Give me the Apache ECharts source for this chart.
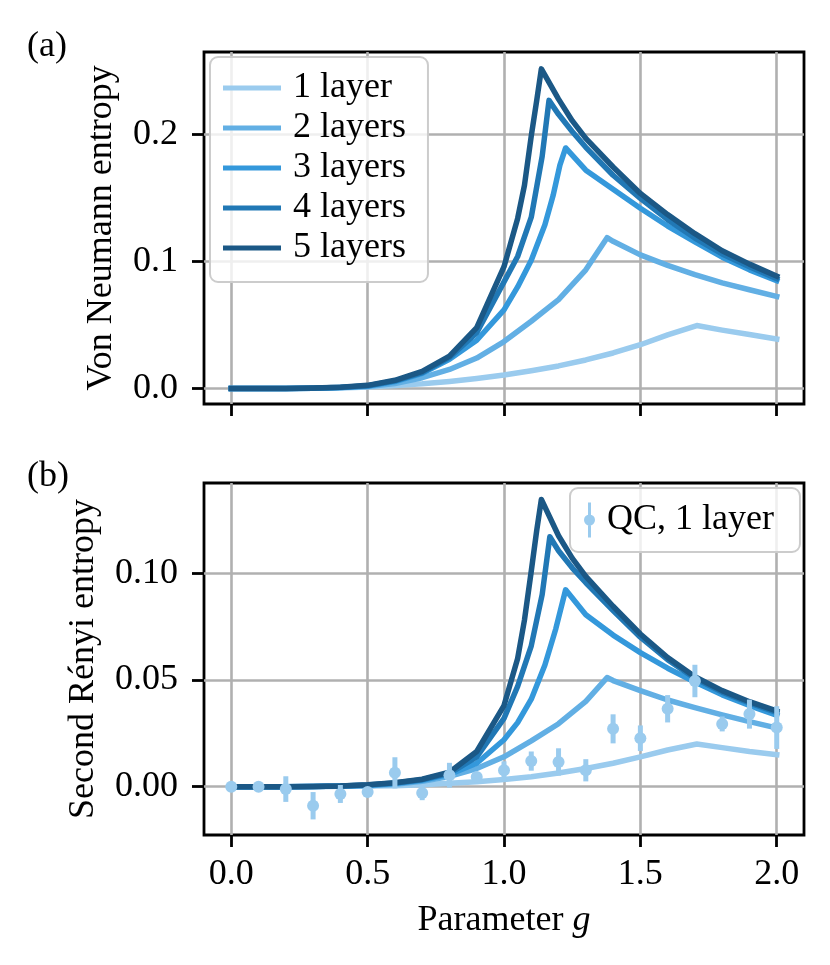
<!DOCTYPE html>
<html>
<head>
<meta charset="utf-8">
<script src="https://cdn.jsdelivr.net/npm/echarts@6.0.0/dist/echarts.min.js"></script>
</head>
<body style="margin:0;background:#fff">
<div id="main" style="width:830px;height:965px"></div>
<script>
// ---- data ----
var layerNames = ['1 layer', '2 layers', '3 layers', '4 layers', '5 layers'];
var layerColors = ['#9acbee', '#62afe4', '#3498db', '#2178b5', '#1b5886'];

var xTicks = [0, 0.5, 1.0, 1.5, 2.0];
var vnTicks = [0, 0.1, 0.2];
var renyiTicks = [0, 0.05, 0.10];

// (a) Von Neumann entropy, [g, S]
var vn1 = [[0,0],[0.1,0],[0.2,0.0001],[0.3,0.0002],[0.4,0.0005],[0.5,0.0012],[0.6,0.0023],[0.7,0.0037],[0.8,0.0056],[0.9,0.0079],[1.0,0.0106],[1.1,0.0140],[1.2,0.0178],[1.3,0.0225],[1.4,0.0280],[1.5,0.0345],[1.6,0.0422],[1.707,0.0496],[1.8,0.0460],[1.9,0.0425],[2.0,0.0390]];
var vn2 = [[0,0],[0.1,0],[0.2,0.0001],[0.3,0.0003],[0.4,0.0007],[0.5,0.0016],[0.6,0.0040],[0.7,0.0085],[0.8,0.0150],[0.9,0.0240],[1.0,0.0370],[1.1,0.0530],[1.2,0.0700],[1.3,0.0935],[1.378,0.1188],[1.4,0.1160],[1.5,0.1053],[1.6,0.0970],[1.7,0.0898],[1.8,0.0832],[1.9,0.0778],[2.0,0.0725]];
var vn3 = [[0,0],[0.1,0],[0.2,0.0001],[0.3,0.0003],[0.4,0.0008],[0.5,0.0020],[0.6,0.0055],[0.7,0.0120],[0.8,0.0230],[0.9,0.0380],[1.0,0.0620],[1.05,0.0800],[1.1,0.1010],[1.15,0.1290],[1.18,0.1520],[1.205,0.1760],[1.226,0.1895],[1.3,0.1720],[1.4,0.1570],[1.5,0.1420],[1.6,0.1280],[1.7,0.1155],[1.8,0.1035],[1.9,0.0935],[2.0,0.0850]];
var vn4 = [[0,0],[0.1,0],[0.2,0.0001],[0.3,0.0003],[0.4,0.0009],[0.5,0.0022],[0.6,0.0060],[0.7,0.0125],[0.8,0.0245],[0.9,0.0440],[1.0,0.0840],[1.05,0.1040],[1.1,0.1350],[1.14,0.1830],[1.165,0.2270],[1.2,0.2160],[1.25,0.2025],[1.3,0.1900],[1.4,0.1680],[1.5,0.1498],[1.6,0.1330],[1.7,0.1185],[1.8,0.1060],[1.9,0.0960],[2.0,0.0865]];
var vn5 = [[0,0],[0.1,0],[0.2,0.0001],[0.3,0.0004],[0.4,0.0010],[0.5,0.0025],[0.6,0.0065],[0.7,0.0135],[0.8,0.0255],[0.9,0.0480],[1.0,0.0960],[1.05,0.1340],[1.075,0.1600],[1.1,0.1990],[1.12,0.2270],[1.137,0.2518],[1.2,0.2280],[1.25,0.2110],[1.3,0.1970],[1.4,0.1745],[1.5,0.1537],[1.6,0.1370],[1.7,0.1220],[1.8,0.1085],[1.9,0.0980],[2.0,0.0885]];

// (b) second Renyi entropy, [g, S2]
var r1 = [[0,0],[0.1,0],[0.2,0],[0.3,0.0001],[0.4,0.0002],[0.5,0.0003],[0.6,0.0005],[0.7,0.0009],[0.8,0.0016],[0.9,0.0023],[1.0,0.0034],[1.1,0.0047],[1.2,0.0064],[1.3,0.0085],[1.4,0.0110],[1.5,0.0140],[1.6,0.0172],[1.707,0.0200],[1.8,0.0183],[1.9,0.0165],[2.0,0.0150]];
var r2 = [[0,0],[0.1,0],[0.2,0],[0.3,0.0001],[0.4,0.0002],[0.5,0.0005],[0.6,0.0012],[0.7,0.0026],[0.8,0.0048],[0.9,0.0085],[1.0,0.0140],[1.1,0.0215],[1.2,0.0295],[1.3,0.0400],[1.378,0.0511],[1.4,0.0497],[1.5,0.0450],[1.6,0.0406],[1.7,0.0370],[1.8,0.0336],[1.9,0.0305],[2.0,0.0275]];
var r3 = [[0,0],[0.1,0],[0.2,0],[0.3,0.0001],[0.4,0.0003],[0.5,0.0007],[0.6,0.0015],[0.7,0.0030],[0.8,0.0058],[0.9,0.0110],[1.0,0.0220],[1.05,0.0300],[1.1,0.0410],[1.15,0.0570],[1.19,0.0740],[1.226,0.0922],[1.3,0.0805],[1.4,0.0710],[1.5,0.0628],[1.6,0.0555],[1.7,0.0490],[1.8,0.0430],[1.9,0.0380],[2.0,0.0335]];
var r4 = [[0,0],[0.1,0],[0.2,0],[0.3,0.0001],[0.4,0.0003],[0.5,0.0008],[0.6,0.0017],[0.7,0.0033],[0.8,0.0063],[0.9,0.0140],[1.0,0.0320],[1.05,0.0470],[1.1,0.0660],[1.14,0.0900],[1.168,0.1170],[1.2,0.1105],[1.25,0.1025],[1.3,0.0955],[1.4,0.0825],[1.5,0.0700],[1.6,0.0595],[1.7,0.0508],[1.8,0.0443],[1.9,0.0392],[2.0,0.0348]];
var r5 = [[0,0],[0.1,0],[0.2,0],[0.3,0.0001],[0.4,0.0003],[0.5,0.0009],[0.6,0.0019],[0.7,0.0035],[0.8,0.0068],[0.9,0.0165],[1.0,0.0380],[1.05,0.0600],[1.075,0.0780],[1.1,0.1010],[1.12,0.1200],[1.137,0.1345],[1.2,0.1175],[1.25,0.1070],[1.3,0.0985],[1.4,0.0845],[1.5,0.0715],[1.6,0.0605],[1.7,0.0515],[1.8,0.0450],[1.9,0.0398],[2.0,0.0355]];

// quantum computer, 1 layer
var qcG   = [0, 0.1, 0.2, 0.3, 0.4, 0.5, 0.6, 0.7, 0.8, 0.9, 1.0, 1.1, 1.2, 1.3, 1.4, 1.5, 1.6, 1.7, 1.8, 1.9, 2.0];
var qcS   = [0, 0, -0.0011, -0.0089, -0.0034, -0.0025, 0.0065, -0.0029, 0.0054, 0.0045, 0.0077, 0.0120, 0.0116, 0.0077, 0.0271, 0.0227, 0.0365, 0.0495, 0.0294, 0.0340, 0.0277];
var qcErr = [0.0005, 0.0008, 0.0060, 0.0064, 0.0042, 0.0020, 0.0073, 0.0034, 0.0058, 0.0020, 0.0042, 0.0045, 0.0064, 0.0052, 0.0068, 0.0060, 0.0064, 0.0076, 0.0035, 0.0068, 0.0100];

var vnData = [vn1, vn2, vn3, vn4, vn5];
var renyiData = [r1, r2, r3, r4, r5];

// ---- chart ----
var FONT = 'Liberation Serif';
var FS = 36;
var chart = echarts.init(document.getElementById('main'), null, {renderer: 'canvas'});

function xAxisFor(gi) {
    return {
        gridIndex: gi, type: 'value', min: -0.1, max: 2.1,
        axisLine: {show: false, onZero: false},
        axisTick: {show: true, length: 12, customValues: xTicks, lineStyle: {color: '#000', width: 2.8}},
        axisLabel: {show: gi === 1, customValues: xTicks, margin: 22, color: '#000',
            fontFamily: FONT, fontSize: FS, formatter: function (v) { return v.toFixed(1); }},
        splitLine: {show: true, lineStyle: {color: '#b0b0b0', width: 2.6}},
        name: gi === 1 ? 'Parameter {i|g}' : '',
        nameLocation: 'middle', nameGap: 68,
        nameTextStyle: {color: '#000', fontFamily: FONT, fontSize: FS,
            rich: {i: {fontStyle: 'italic', fontFamily: FONT, fontSize: FS, color: '#000'}}}
    };
}

function yAxisFor(gi, lo, hi, ticks, digits, name, gap) {
    return {
        gridIndex: gi, type: 'value', min: lo, max: hi,
        axisLine: {show: false, onZero: false},
        axisTick: {show: true, length: 12, customValues: ticks, lineStyle: {color: '#000', width: 2.8}},
        axisLabel: {customValues: ticks, margin: 26, color: '#000', fontFamily: FONT, fontSize: FS,
            formatter: function (v) { return v.toFixed(digits); }},
        splitLine: {show: true, lineStyle: {color: '#b0b0b0', width: 2.6}},
        name: name, nameLocation: 'middle', nameGap: gap,
        nameTextStyle: {color: '#000', fontFamily: FONT, fontSize: FS}
    };
}

var series = [];
[vnData, renyiData].forEach(function (set, gi) {
    set.forEach(function (d, k) {
        series.push({
            name: layerNames[k], type: 'line', xAxisIndex: gi, yAxisIndex: gi,
            data: d, showSymbol: false, symbol: 'none', z: 2 + k * 0.01,
            lineStyle: {color: layerColors[k], width: 5.5, join: 'round', cap: 'square'},
            itemStyle: {color: layerColors[k]},
            emphasis: {disabled: true}
        });
    });
});

var errData = qcG.map(function (g, i) { return [g, qcS[i] - qcErr[i], qcS[i] + qcErr[i]]; });
series.push({
    name: 'QC, 1 layer', type: 'custom', xAxisIndex: 1, yAxisIndex: 1, z: 4,
    data: errData, encode: {x: 0, y: [1, 2]},
    itemStyle: {color: layerColors[0]},
    renderItem: function (params, api) {
        var a = api.coord([api.value(0), api.value(1)]);
        var b = api.coord([api.value(0), api.value(2)]);
        return {type: 'line', shape: {x1: a[0], y1: a[1], x2: b[0], y2: b[1]},
            style: {stroke: layerColors[0], lineWidth: 5}};
    }
});
series.push({
    name: 'QC, 1 layer', type: 'scatter', xAxisIndex: 1, yAxisIndex: 1, z: 5,
    data: qcG.map(function (g, i) { return [g, qcS[i]]; }),
    symbolSize: 12, itemStyle: {color: layerColors[0], opacity: 1},
    emphasis: {disabled: true}
});

var legendBox = {
    backgroundColor: 'rgba(255,255,255,0.8)', borderColor: '#cccccc', borderWidth: 2, borderRadius: 8,
    textStyle: {color: '#000', fontFamily: FONT, fontSize: FS, lineHeight: 36, padding: [0, 0, 0, 7]},
    selectedMode: false
};

chart.setOption({
    animation: false,
    grid: [
        {left: 204, top: 52, width: 600, height: 352, show: true, borderColor: '#000', borderWidth: 2.8, backgroundColor: 'transparent'},
        {left: 204, top: 483, width: 600, height: 352, show: true, borderColor: '#000', borderWidth: 2.8, backgroundColor: 'transparent'}
    ],
    xAxis: [xAxisFor(0), xAxisFor(1)],
    yAxis: [
        yAxisFor(0, -0.0122, 0.2651, vnTicks, 1, 'Von Neumann entropy', 84),
        yAxisFor(1, -0.0226, 0.1422, renyiTicks, 2, 'Second Rényi entropy', 102)
    ],
    legend: [
        Object.assign({
            data: layerNames, orient: 'vertical', left: 210, top: 57,
            icon: 'rect', itemWidth: 58, itemHeight: 5, itemGap: 4, padding: [13, 22, 16, 13]
        }, legendBox),
        Object.assign({
            data: [{name: 'QC, 1 layer',
                icon: 'path://M4,0 L7,0 L7,35 L4,35 Z M0,17.5 A5.5,5.5 0 1,1 11,17.5 A5.5,5.5 0 1,1 0,17.5 Z'}],
            orient: 'vertical', left: 570, top: 488,
            itemWidth: 11, itemHeight: 35, padding: [14, 26, 14, 14]
        }, legendBox)
    ],
    graphic: [
        {type: 'text', left: 27, top: 29, style: {text: '(a)', fontFamily: FONT, fontSize: FS, fill: '#000'}},
        {type: 'text', left: 27, top: 459, style: {text: '(b)', fontFamily: FONT, fontSize: FS, fill: '#000'}}
    ],
    series: series
});
</script>
</body>
</html>
